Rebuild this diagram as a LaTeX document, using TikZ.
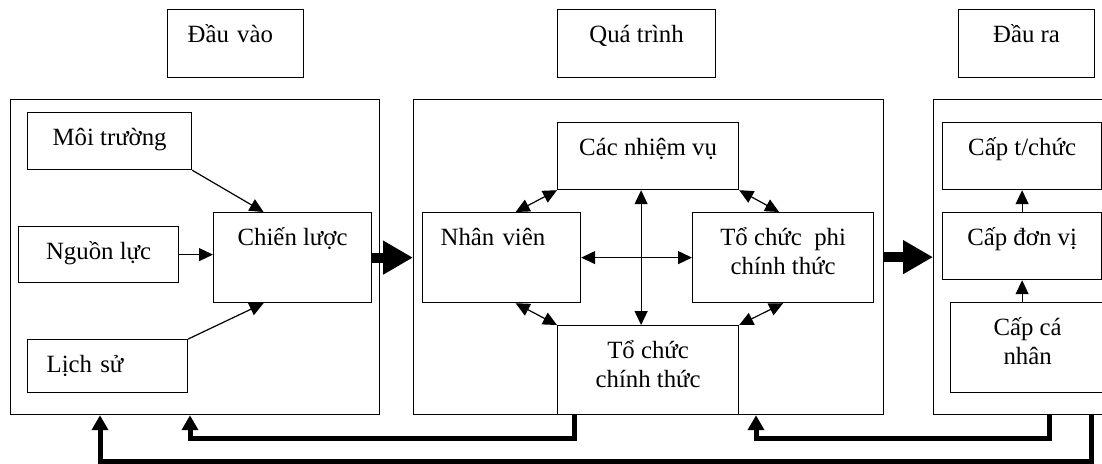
\documentclass[tikz,border=0pt]{standalone}
\usepackage{fontspec}
\setmainfont{Liberation Serif}
\usetikzlibrary{arrows.meta, positioning, calc}
\tikzset{
    every node/.style={font=\fontsize{12.4pt}{14.25pt}\selectfont},
    bx/.style={draw, line width=0.6pt, inner sep=0pt, anchor=north west, align=center, text height=16.5pt},
    twolines/.style={text height=30.75pt},
    frame/.style={draw, line width=0.6pt, inner sep=0pt, anchor=north west},
    thinarrow/.style={line width=0.6pt, -{Triangle[length=7pt, width=6.5pt]}},
    twoway/.style={line width=0.6pt, {Triangle[length=7pt, width=6.5pt]}-{Triangle[length=7pt, width=6.5pt]}},
    bigarrow/.style={line width=5pt, -{Triangle[length=15pt, width=16pt]}},
    feedback/.style={line width=2.5pt, -{Triangle[length=7.5pt, width=8pt]}}
}

\begin{document}
\begin{tikzpicture}[x=0.5pt, y=-0.5pt]
    \path [use as bounding box] (0,0) rectangle (1102,463);
    \clip (0,0) rectangle (1102,463);

    \node [bx, align=left, inner xsep=10pt, text width=48pt, text depth=17.5pt] (hin) at (167,9) {Đầu vào};
    \node [bx, minimum width=79pt, text depth=17.5pt] (hproc) at (557,9) {Quá trình};
    \node [bx, minimum width=68pt, text depth=17.5pt] (hout) at (958,9) {Đầu ra};

    \node [frame, minimum width=184.5pt, minimum height=157.5pt] (inbox) at (10,99) {};
    \node [frame, minimum width=235pt, minimum height=157.5pt] (procbox) at (413,99) {};
    \node [frame, minimum width=90pt, minimum height=157.5pt] (outbox) at (933,99) {};

    \node [bx, minimum width=82pt, text depth=12pt] (env) at (27,112) {Môi trường};
    \node [bx, minimum width=80pt, text depth=11.5pt] (res) at (18,226) {Nguồn lực};
    \node [bx, align=left, inner xsep=9.5pt, text width=61pt, text depth=10pt] (hist) at (27,339) {Lịch sử};
    \node [bx, minimum width=79pt, text depth=28.5pt] (strat) at (213,212) {Chiến lược};

    \node [bx, minimum width=90.5pt, text depth=17pt] (tasks) at (557,122) {Các nhiệm vụ};
    \node [bx, align=left, inner xsep=9pt, text width=61pt, text depth=28.5pt] (staff) at (422,212) {Nhân viên};
    \node [bx, twolines, minimum width=90.5pt, text depth=14.25pt] (informal) at (692,212) {Tổ chức\ \ phi\\chính thức};
    \node [bx, twolines, minimum width=90.5pt, text depth=13.75pt] (formal) at (557,325) {Tổ chức\\chính thức};

    \node [bx, minimum width=79.5pt, text depth=17pt] (org) at (942,122) {Cấp t/chức};
    \node [bx, minimum width=79.5pt, text depth=17pt] (unit) at (942,212) {Cấp đơn vị};
    \node [bx, twolines, minimum width=77pt, text depth=14.25pt] (indiv) at (950,302) {Cấp cá\\nhân};

    \draw [thinarrow] (env.south east) -- ([xshift=-14.5pt]strat.north);
    \draw [thinarrow] (res.east) -- (res.east -| strat.west);
    \draw [thinarrow] (hist.north east) -- ([xshift=-14.5pt]strat.south);
    \draw [bigarrow] (strat.east) -- (strat.east -| procbox.west);

    \draw [twoway] (tasks.south west) -- ([xshift=7pt]staff.north);
    \draw [twoway] (formal.north west) -- ([xshift=7pt]staff.south);
    \draw [twoway] (tasks.south east) -- ([xshift=-2pt]informal.north);
    \draw [twoway] (formal.north east) -- (informal.south);
    \draw [twoway] ([xshift=-3.5pt]tasks.south) -- ([xshift=-3.5pt]formal.north);
    \draw [twoway] (staff.east) -- (informal.west);
    \draw [bigarrow] (procbox.east) -- (outbox.west);

    \draw [thinarrow] (unit.south |- indiv.north) -- (unit.south);
    \draw [thinarrow] (unit.north) -- (org.south);

    \draw [feedback] ([xshift=8.5pt]formal.south west) -- ++(0,23) -| ([xshift=90pt]inbox.south west);
    \draw [feedback] ([xshift=58pt]outbox.south west) -- ++(0,23) -| ([xshift=171.5pt]procbox.south west);
    \draw [feedback] ([xshift=79pt]outbox.south west) -- ++(0,46) -| ([xshift=45pt]inbox.south west);
\end{tikzpicture}
\end{document}
